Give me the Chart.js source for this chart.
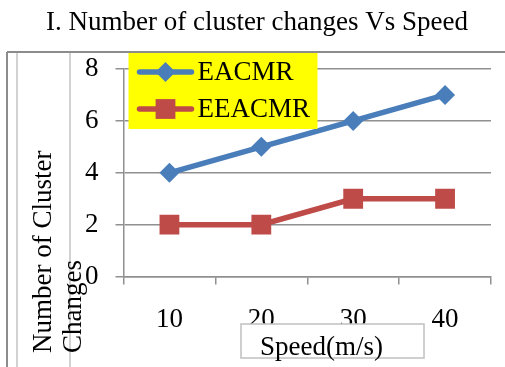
<!DOCTYPE html>
<html>
<head>
<meta charset="utf-8">
<title>Number of cluster changes Vs Speed</title>
<script src="https://cdn.jsdelivr.net/npm/chart.js@4.4.1/dist/chart.umd.min.js"></script>
<style>
  html, body { margin: 0; padding: 0; background: #fff; }
  canvas { display: block; }
</style>
</head>
<body>
<canvas id="chart" width="505" height="367"></canvas>
<script>
// chart data
const speeds = ["10", "20", "30", "40"];
const eacmr = [4, 5, 6, 7];
const eeacmr = [2, 2, 3, 3];
const yTicks = [0, 2, 4, 6, 8];

const seriesNames = ["EACMR", "EEACMR"];
const chartTitle = "I. Number of cluster changes Vs Speed";
const xTitle = "Speed(m/s)";
const yTitle = ["Number of Cluster", "Changes"];

const SERIF = "'Liberation Serif', 'Times New Roman', serif";
const FONT_SIZE = 27;
const GRID = "#909090";
const BLUE = "#4a7ebb";
const RED = "#be4b48";

function drawMarker(ctx, style, r, x, y, color) {
  ctx.fillStyle = color;
  ctx.beginPath();
  if (style === "rectRot") {
    ctx.moveTo(x - r, y);
    ctx.lineTo(x, y - r);
    ctx.lineTo(x + r, y);
    ctx.lineTo(x, y + r);
  } else {
    const s = r * Math.SQRT1_2;
    ctx.rect(x - s, y - s, 2 * s, 2 * s);
  }
  ctx.closePath();
  ctx.fill();
}

// grey frame around the figure, plus the heading above it
const framePlugin = {
  id: "frame",
  beforeDraw(chart) {
    const ctx = chart.ctx;
    ctx.save();
    ctx.lineWidth = 2;
    ctx.strokeStyle = "#8c8c8c";
    ctx.beginPath();
    ctx.moveTo(7, 52); ctx.lineTo(505, 52);
    ctx.moveTo(7, 52); ctx.lineTo(7, 367);
    ctx.stroke();
    ctx.lineWidth = 1.5;
    ctx.strokeStyle = "#c4c4c4";
    ctx.beginPath();
    ctx.moveTo(17, 53); ctx.lineTo(17, 367);
    ctx.moveTo(70, 53); ctx.lineTo(70, 367);
    ctx.stroke();

    ctx.font = FONT_SIZE + "px " + SERIF;
    ctx.fillStyle = "#000";
    ctx.textAlign = "center";
    ctx.textBaseline = "middle";
    ctx.fillText(chartTitle, 257, 23);
    ctx.restore();
  }
};

// axis titles, legend box
const extrasPlugin = {
  id: "extras",
  afterDraw(chart) {
    const ctx = chart.ctx;
    const area = chart.chartArea;
    ctx.save();
    ctx.font = FONT_SIZE + "px " + SERIF;
    ctx.fillStyle = "#000";
    ctx.textBaseline = "middle";

    // y title, two rotated lines
    ctx.save();
    ctx.translate(44, 353);
    ctx.rotate(-Math.PI / 2);
    ctx.textAlign = "left";
    yTitle.forEach((line, i) => ctx.fillText(line, 0, i * 29.5));
    ctx.restore();

    // x title in a white box
    ctx.fillStyle = "#fff";
    ctx.fillRect(241, 324, 183, 34);
    ctx.lineWidth = 1.5;
    ctx.strokeStyle = "#c0c0c0";
    ctx.strokeRect(241, 324, 183, 34);
    ctx.fillStyle = "#000";
    ctx.textAlign = "left";
    ctx.fillText(xTitle, 260, 348);

    // legend
    const lx = area.left + 5, ly = area.top - 16;
    ctx.fillStyle = "#ffff00";
    ctx.fillRect(lx, ly, 189, 76);
    chart.data.datasets.forEach((ds, i) => {
      const y = ly + 19 + i * 37;
      ctx.strokeStyle = ds.borderColor;
      ctx.lineWidth = ds.borderWidth;
      ctx.lineCap = "round";
      ctx.beginPath();
      ctx.moveTo(lx + 11, y);
      ctx.lineTo(lx + 63, y);
      ctx.stroke();
      drawMarker(ctx, ds.pointStyle, ds.pointRadius, lx + 37, y, ds.borderColor);
      ctx.fillStyle = "#000";
      ctx.textAlign = "left";
      ctx.fillText(ds.label, lx + 69, y + 1);
    });
    ctx.restore();
  }
};

new Chart(document.getElementById("chart"), {
  type: "line",
  data: {
    labels: speeds,
    datasets: [
      {
        label: seriesNames[0],
        data: eacmr,
        borderColor: BLUE,
        backgroundColor: BLUE,
        borderWidth: 5.5,
        pointStyle: "rectRot",
        pointRadius: 10,
        pointBorderWidth: 0,
        pointBackgroundColor: BLUE,
        tension: 0
      },
      {
        label: seriesNames[1],
        data: eeacmr,
        borderColor: RED,
        backgroundColor: RED,
        borderWidth: 5.5,
        pointStyle: "rect",
        pointRadius: 14,
        pointBorderWidth: 0,
        pointBackgroundColor: RED,
        tension: 0
      }
    ]
  },
  options: {
    responsive: false,
    animation: false,
    devicePixelRatio: 1,
    layout: { padding: { left: 68, right: 14, top: 69, bottom: 12 } },
    plugins: {
      legend: { display: false },
      tooltip: { enabled: false },
      title: { display: false }
    },
    scales: {
      x: {
        offset: true,
        grid: {
          offset: true,
          drawOnChartArea: false,
          drawTicks: true,
          tickLength: 8,
          color: GRID,
          lineWidth: 1.5
        },
        border: { display: true, color: GRID, width: 1.5 },
        ticks: {
          color: "#000",
          padding: 19,
          font: { family: SERIF, size: FONT_SIZE, lineHeight: 1.2 }
        }
      },
      y: {
        min: yTicks[0],
        max: yTicks[yTicks.length - 1],
        afterBuildTicks(scale) {
          scale.ticks = yTicks.map(v => ({ value: v }));
        },
        grid: {
          color: GRID,
          lineWidth: 1.5,
          tickLength: 8
        },
        border: { display: true, color: GRID, width: 1.5 },
        ticks: {
          color: "#000",
          padding: 17,
          font: { family: SERIF, size: FONT_SIZE, lineHeight: 1.2 }
        }
      }
    }
  },
  plugins: [framePlugin, extrasPlugin]
});
</script>
</body>
</html>
